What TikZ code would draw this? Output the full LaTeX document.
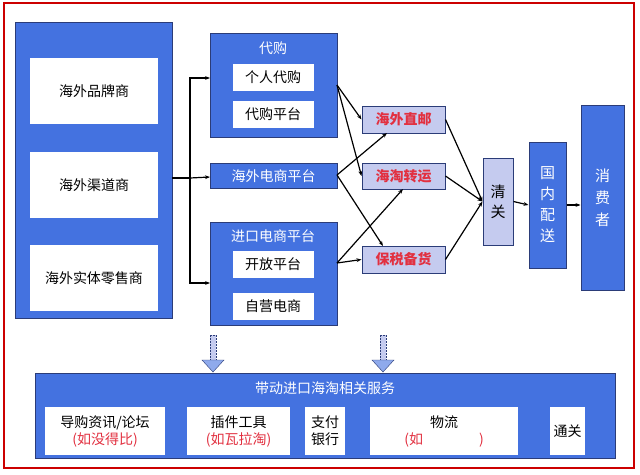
\documentclass[tikz,border=0pt]{standalone}
\usepackage{fontspec}
\setmainfont{Noto Sans CJK SC}
\usetikzlibrary{arrows.meta}
\definecolor{boxblue}{HTML}{4472E0}
\definecolor{boxline}{HTML}{2B3C78}
\definecolor{lightbox}{HTML}{C5CBEF}
\definecolor{hotred}{HTML}{E23040}
\tikzset{
	bluebox/.style={draw=boxline,fill=boxblue,line width=1pt},
	whitebox/.style={draw=none,fill=white,font=\fontsize{14}{17}\selectfont,align=center,inner sep=1pt},
	modebox/.style={draw=boxline,fill=lightbox,line width=1pt,text=hotred,font=\bfseries\fontsize{14}{16}\selectfont,inner sep=1pt},
	flow/.style={-{Stealth[length=5pt]},line width=1.2pt},
	title/.style={text=white,font=\fontsize{14}{16}\selectfont,inner sep=1pt}
}
\begin{document}
\begin{tikzpicture}[x=1pt,y=-1pt]
	\useasboundingbox (0,0) rectangle (640,474);
	\fill[white] (0,0) rectangle (640,474);
	\draw[red!80!black,line width=1.2pt] (4,3) rectangle (634,468);
	% sources
	\draw[bluebox] (15,22) rectangle (172,318);
	\node[whitebox,minimum width=128pt,minimum height=66pt] (brand) at (94,91) {海外品牌商};
	\node[whitebox,minimum width=128pt,minimum height=66pt] (channel) at (94,185) {海外渠道商};
	\node[whitebox,minimum width=128pt,minimum height=66pt] (retail) at (94,278) {海外实体零售商};
	\coordinate (src) at (172,178);
	% channels
	\draw[bluebox] (210,33) rectangle (337,137);
	\node[title] (dg) at (273,48) {代购};
	\node[whitebox,minimum width=81pt,minimum height=27pt] (dg1) at (273,77) {个人代购};
	\node[whitebox,minimum width=81pt,minimum height=27pt] (dg2) at (273,114) {代购平台};
	\node[bluebox,title,minimum width=127pt,minimum height=25pt] (ec) at (273.5,176) {海外电商平台};
	\draw[bluebox] (210,222) rectangle (337,325);
	\node[title] (im) at (273,236) {进口电商平台};
	\node[whitebox,minimum width=81pt,minimum height=27pt] (im1) at (273,264) {开放平台};
	\node[whitebox,minimum width=81pt,minimum height=27pt] (im2) at (273,306) {自营电商};
	\coordinate (dgin) at (210,78);
	\coordinate (ecin) at (210,177);
	\coordinate (imin) at (210,283);
	\coordinate (dgout) at (337,85);
	\coordinate (ecout) at (337,175);
	\coordinate (imout) at (337,263);
	\draw[line width=1.2pt] (src) -- (190,178);
	\draw[flow] (190,178) |- (dgin);
	\draw[flow] (190,178) -- (ecin);
	\draw[flow] (190,178) |- (imin);
	% modes
	\node[modebox,minimum width=83pt,minimum height=27pt] (zy) at (403.5,119.5) {海外直邮};
	\node[modebox,minimum width=83pt,minimum height=26pt] (zh) at (403.5,176) {海淘转运};
	\node[modebox,minimum width=83pt,minimum height=27pt] (bs) at (403.5,259.5) {保税备货};
	\draw[flow] (dgout) -- (zy.west);
	\draw[flow] (dgout) -- (zh.west);
	\draw[flow] (ecout) -- (387,133);
	\draw[flow] (ecout) -- (383,246);
	\draw[flow] (imout) -- (403,189);
	\draw[flow] (imout) -- (bs.west);
	% clearance and delivery
	\node[modebox,text=black,minimum width=30pt,minimum height=87pt,align=center,font=\fontsize{15}{20}\selectfont] (qg) at (498,201.5) {清\\关};
	\node[bluebox,title,minimum width=37pt,minimum height=126pt,align=center,font=\fontsize{15}{21}\selectfont] (gn) at (547.5,205) {国\\内\\配\\送};
	\node[bluebox,title,minimum width=43pt,minimum height=185pt,align=center,font=\fontsize{15}{22}\selectfont] (xf) at (602.5,197.5) {消\\费\\者};
	\draw[flow] (zy.east) -- (qg.west);
	\draw[flow] (zh.east) -- (qg.west);
	\draw[flow] (bs.east) -- (qg.west);
	\draw[flow] (qg.east) -- (gn.west);
	\draw[flow] (gn.east) -- (gn.east -| xf.west);
	% services
	\draw[bluebox] (35,373) rectangle (615,458);
	\node[title] (sv) at (325,388) {带动进口海淘相关服务};
	\node[whitebox,minimum width=120pt,minimum height=48pt] (s1) at (105,431) {导购资讯/论坛\\\textcolor{hotred}{(如没得比)}};
	\node[whitebox,minimum width=103pt,minimum height=48pt] (s2) at (238.5,431) {插件工具\\\textcolor{hotred}{(如瓦拉淘)}};
	\node[whitebox,minimum width=40pt,minimum height=48pt] (s3) at (325,431) {支付\\银行};
	\node[whitebox,minimum width=148pt,minimum height=48pt] (s4) at (444,431) {物流\\\textcolor{hotred}{(如\phantom{顺丰速运})}};
	\node[whitebox,minimum width=35pt,minimum height=48pt,anchor=north] (s5) at (567.5,407) {通关};
	% block arrows
	\foreach \x in {213,383} {
		\draw[boxline,fill=lightbox,dash pattern=on 2pt off 1pt] (\x-3,335) rectangle (\x+3,360);
		\draw[boxline,fill=boxblue!60] (\x-11,360) -- (\x+11,360) -- (\x,372) -- cycle;
	}
\end{tikzpicture}
\end{document}
